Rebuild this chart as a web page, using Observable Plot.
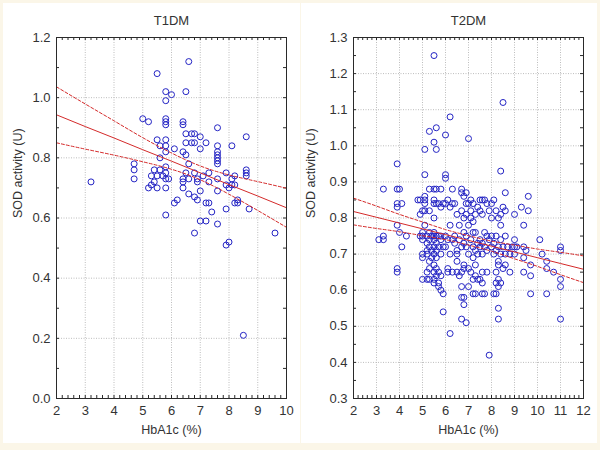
<!DOCTYPE html>
<html><head><meta charset="utf-8">
<script src="https://cdn.jsdelivr.net/npm/d3@7"></script>
<script src="https://cdn.jsdelivr.net/npm/@observablehq/plot@0.6"></script>
<style>
html,body{margin:0;padding:0;background:#fbf6e8;}
body{width:600px;height:450px;position:relative;overflow:hidden;font-family:"Liberation Sans",Arial,sans-serif;}
.panel{position:absolute;top:3px;height:440px;background:#fff;}
#left{left:3px;width:297px;}
#right{left:301px;width:296px;}
</style></head><body>
<div id="left" class="panel"></div><div id="right" class="panel"></div>
<script>
// ---------- data ----------
const titles = ["T1DM", "T2DM"];
const xLabel = "HbA1c (%)";
const yLabel = "SOD activity (U)";

const t1dmPoints = [
[3.2,0.72],
[4.7,0.78],[4.7,0.76],[4.7,0.73],
[5.0,0.93],[5.2,0.92],[5.5,1.08],[5.8,1.02],[5.8,0.99],[6.0,1.01],[6.5,1.02],[6.6,1.12],
[5.8,0.93],[5.8,0.92],[5.8,0.91],[6.4,0.92],[6.4,0.91],[7.6,0.90],
[5.5,0.86],[5.8,0.86],[5.6,0.84],[5.8,0.84],[5.8,0.82],[5.6,0.80],[6.1,0.83],
[6.5,0.88],[6.7,0.88],[6.8,0.88],[7.0,0.87],[6.5,0.85],[6.7,0.85],[6.8,0.85],[7.2,0.85],[7.0,0.83],[6.4,0.82],[6.5,0.81],[6.6,0.78],
[7.6,0.84],[7.6,0.82],[7.6,0.81],[7.6,0.80],[7.6,0.79],[7.6,0.78],[8.1,0.84],[8.6,0.87],
[5.4,0.76],[5.6,0.76],[5.8,0.77],[5.8,0.75],[5.3,0.74],[5.5,0.74],[5.7,0.74],[5.9,0.73],[5.8,0.73],[5.4,0.72],[5.3,0.71],[5.2,0.70],[5.5,0.70],[5.8,0.70],
[6.5,0.75],[6.4,0.73],[6.6,0.73],[6.4,0.72],[6.4,0.70],[6.8,0.75],[6.9,0.73],[7.1,0.74],[7.3,0.75],[6.9,0.72],[7.3,0.72],[7.6,0.73],
[6.6,0.68],[6.8,0.67],[6.9,0.66],[7.0,0.69],[6.2,0.66],[6.1,0.65],[5.8,0.61],[7.2,0.65],[7.3,0.65],[7.6,0.69],
[7.9,0.75],[8.2,0.74],[8.1,0.73],[7.9,0.71],[8.1,0.71],[8.2,0.71],[8.0,0.70],
[8.6,0.76],[8.6,0.75],[8.6,0.74],
[8.3,0.66],[8.2,0.65],[8.3,0.65],[8.7,0.63],[7.9,0.63],[7.4,0.62],[7.0,0.59],[7.2,0.59],[7.6,0.58],[6.8,0.55],[7.9,0.51],[8.0,0.52],[9.6,0.55],[8.5,0.21]
];

const t2dmPoints = [
[3.1,0.74],[3.3,0.75],[3.3,0.74],[3.3,0.88],
[3.9,0.95],[3.9,0.88],[4.0,0.88],[3.9,0.84],[4.1,0.84],[3.9,0.83],[3.9,0.78],[4.0,0.76],[4.1,0.72],[3.9,0.66],[3.9,0.65],[4.3,0.75],
[4.8,0.85],[4.9,0.85],[4.9,0.81],[4.9,0.75],
[5.0,0.76],[5.0,0.75],[5.0,0.74],[5.0,0.70],[5.0,0.69],[5.0,0.63],[5.1,0.86],[5.1,0.85],[5.1,0.84],[5.1,0.82],[5.0,0.82],[5.1,0.78],[5.2,0.75],[5.2,0.73],[5.2,0.71],[5.2,0.70],[5.2,0.65],[5.2,0.63],[5.1,0.99],[5.1,0.92],
[5.3,0.88],[5.3,1.04],[5.3,0.82],[5.3,0.76],[5.3,0.74],[5.3,0.72],[5.3,0.68],[5.3,0.66],[5.3,0.63],[5.4,0.75],[5.4,0.71],[5.4,0.69],
[5.5,1.25],[5.5,1.01],[5.5,0.88],[5.5,0.85],[5.5,0.84],[5.5,0.80],[5.5,0.76],[5.5,0.75],[5.5,0.74],[5.5,0.72],[5.5,0.70],[5.5,0.67],[5.5,0.65],[5.5,0.63],[5.5,0.62],
[5.6,1.05],[5.6,0.99],[5.6,0.88],[5.6,0.84],[5.6,0.75],[5.6,0.73],[5.6,0.71],[5.6,0.69],[5.6,0.66],[5.6,0.64],
[5.7,0.84],[5.7,0.75],[5.7,0.72],[5.7,0.65],[5.7,0.62],[5.7,0.61],[5.8,0.88],[5.8,0.83],[5.8,0.75],[5.8,0.74],[5.8,0.70],[5.8,0.64],[5.8,0.60],[5.9,0.59],[5.9,0.54],[5.9,0.72],[5.9,0.84],
[6.0,1.03],[6.0,0.92],[6.0,0.91],[6.0,0.84],[6.0,0.75],[6.0,0.72],[6.1,0.85],[6.1,0.74],[6.1,0.66],[6.1,0.65],[6.2,1.08],[6.2,0.48],[6.2,0.83],[6.2,0.70],[6.2,0.78],
[6.3,0.88],[6.3,0.84],[6.3,0.74],[6.3,0.65],[6.4,0.84],[6.4,0.75],[6.4,0.73],[6.5,0.81],[6.5,0.71],[6.5,0.70],[6.5,0.68],[6.5,0.65],[6.6,0.64],[6.6,0.78],[6.6,0.74],
[6.7,0.88],[6.7,0.87],[6.7,0.82],[6.7,0.72],[6.7,0.65],[6.7,0.61],[6.7,0.58],[6.7,0.52],[6.8,0.86],[6.8,0.80],[6.8,0.76],[6.8,0.73],[6.8,0.67],[6.8,0.66],[6.8,0.58],[6.8,0.56],
[6.9,0.87],[6.9,0.84],[6.9,0.81],[6.9,0.75],[6.9,0.72],[6.9,0.51],[7.0,1.02],[7.0,0.84],[7.0,0.78],[7.0,0.70],[7.0,0.66],[7.0,0.61],
[7.1,0.85],[7.1,0.82],[7.1,0.80],[7.1,0.74],[7.1,0.65],[7.2,0.84],[7.2,0.79],[7.2,0.76],[7.2,0.72],[7.2,0.69],[7.2,0.63],[7.2,0.59],[7.3,0.81],[7.3,0.76],[7.3,0.71],[7.3,0.67],[7.3,0.64],[7.3,0.59],
[7.4,0.83],[7.4,0.73],[7.4,0.70],[7.4,0.63],[7.5,0.85],[7.5,0.82],[7.5,0.74],[7.5,0.72],[7.5,0.63],[7.6,0.85],[7.6,0.81],[7.6,0.73],[7.6,0.70],[7.6,0.65],[7.6,0.62],[7.6,0.59],
[7.7,0.85],[7.7,0.76],[7.7,0.72],[7.7,0.59],[7.8,0.84],[7.8,0.75],[7.8,0.71],[7.8,0.65],[7.9,0.82],[7.9,0.74],[7.9,0.42],
[8.0,0.84],[8.0,0.80],[8.0,0.75],[8.0,0.72],[8.1,0.85],[8.1,0.73],[8.1,0.70],[8.1,0.59],[8.2,0.82],[8.2,0.75],[8.2,0.71],[8.2,0.65],[8.2,0.62],[8.2,0.59],
[8.3,0.80],[8.3,0.72],[8.3,0.68],[8.3,0.63],[8.3,0.61],[8.3,0.55],[8.3,0.52],[8.3,0.67],
[8.4,0.93],[8.4,0.81],[8.4,0.78],[8.4,0.74],[8.4,0.70],[8.4,0.62],[8.5,1.12],[8.5,0.83],[8.5,0.72],[8.5,0.66],[8.6,0.82],[8.6,0.87],[8.6,0.75],[8.6,0.70],[8.6,0.67],
[8.7,0.72],[8.8,0.70],[8.8,0.65],[8.9,0.72],[9.0,0.81],[9.0,0.74],[9.0,0.72],[9.0,0.70],[9.1,0.72],
[9.3,0.83],[9.4,0.72],[9.4,0.69],[9.4,0.65],[9.4,0.78],[9.5,0.71],[9.6,0.86],[9.6,0.82],[9.7,0.67],[9.7,0.64],[9.7,0.59],
[10.1,0.74],[10.2,0.70],[10.4,0.68],[10.4,0.66],[10.4,0.59],[10.7,0.65],[11.0,0.72],[11.0,0.71],[11.0,0.63],[11.0,0.61],[11.0,0.52]
];

// regression line and 95% confidence band
const t1dmFitX   = [2, 3, 4, 5, 6, 7, 8, 9, 10];
const t1dmFit    = [0.943, 0.904, 0.866, 0.827, 0.789, 0.750, 0.711, 0.673, 0.634];
const t1dmUpper  = [1.036, 0.979, 0.923, 0.867, 0.816, 0.773, 0.743, 0.721, 0.699];
const t1dmLower  = [0.850, 0.829, 0.809, 0.787, 0.762, 0.727, 0.679, 0.625, 0.569];

const t2dmFitX   = [2, 3, 4, 5, 6, 7, 8, 9, 10, 11, 12];
const t2dmFit    = [0.818, 0.802, 0.786, 0.770, 0.754, 0.738, 0.722, 0.706, 0.690, 0.674, 0.658];
const t2dmUpper  = [0.855, 0.833, 0.810, 0.789, 0.768, 0.751, 0.736, 0.725, 0.714, 0.705, 0.695];
const t2dmLower  = [0.781, 0.771, 0.762, 0.751, 0.740, 0.725, 0.708, 0.687, 0.666, 0.643, 0.621];

const t1dmXTicks = [2, 3, 4, 5, 6, 7, 8, 9, 10];
const t1dmYTicks = [0.0, 0.2, 0.4, 0.6, 0.8, 1.0, 1.2];
const t2dmXTicks = [2, 3, 4, 5, 6, 7, 8, 9, 10, 11, 12];
const t2dmYTicks = [0.3, 0.4, 0.5, 0.6, 0.7, 0.8, 0.9, 1.0, 1.1, 1.2, 1.3];

// ---------- drawing ----------
function panel({title, points, fitX, fit, upper, lower, xDomain, yDomain, xTicks, yTicks, xMinor, yMinor, marginLeft, width, yLabelDx}) {
  const H = 440, mt = 34, mb = 45, mr = 14;
  const ph = H - mt - mb, pw = width - marginLeft - mr;
  const tk = 3;
  const fitRows = fitX.map((x, i) => ({x, fit: fit[i], upper: upper[i], lower: lower[i]}));
  const red = "#d42a2a";
  const ink = "#2a2a2a";
  return Plot.plot({
    width, height: H, marginLeft, marginRight: mr, marginTop: mt, marginBottom: mb,
    style: {fontFamily: "'Liberation Sans', Arial, sans-serif", fontSize: "13px", color: ink, background: "white", overflow: "visible"},
    x: {domain: xDomain},
    y: {domain: yDomain},
    marks: [
      Plot.gridX(xTicks, {stroke: "#bdbdbd", strokeOpacity: 1, strokeDasharray: "1,1.5"}),
      Plot.gridY(yTicks, {stroke: "#bdbdbd", strokeOpacity: 1, strokeDasharray: "1,1.5"}),
      Plot.ruleY(yMinor, {insetRight: pw - tk, stroke: ink}),
      Plot.ruleY(yMinor, {insetLeft: pw - tk, stroke: ink}),
      Plot.ruleX(xMinor, {insetTop: ph - tk, stroke: ink}),
      Plot.ruleX(xMinor, {insetBottom: ph - tk, stroke: ink}),
      Plot.axisX(xTicks, {tickSize: 0, tickPadding: 7, label: null, fill: "#333"}),
      Plot.axisY(yTicks, {tickSize: 0, tickPadding: 6, label: null, tickFormat: d3.format(".1f"), fill: "#333"}),
      Plot.dot(points, {x: d => d[0], y: d => d[1], r: 3, stroke: "#2424c4", strokeWidth: 1, fill: "none"}),
      Plot.line(fitRows, {x: "x", y: "fit", stroke: red, strokeWidth: 1}),
      Plot.line(fitRows, {x: "x", y: "upper", stroke: red, strokeWidth: 1, strokeDasharray: "3,2", curve: "natural"}),
      Plot.line(fitRows, {x: "x", y: "lower", stroke: red, strokeWidth: 1, strokeDasharray: "3,2", curve: "natural"}),
      Plot.frame({stroke: ink}),
      Plot.text([title], {text: d => d, frameAnchor: "top", dy: -22, fontSize: 13, fill: "#333"}),
      Plot.text([xLabel], {text: d => d, frameAnchor: "bottom", dy: 35, fontSize: 12.5, fill: "#333"}),
      Plot.text([yLabel], {text: d => d, frameAnchor: "left", dx: yLabelDx, rotate: -90, fontSize: 12.5, fill: "#333"})
    ]
  });
}

document.getElementById("left").append(panel({
  title: titles[0], points: t1dmPoints,
  fitX: t1dmFitX, fit: t1dmFit, upper: t1dmUpper, lower: t1dmLower,
  xDomain: [2, 10], yDomain: [0, 1.2], xTicks: t1dmXTicks, yTicks: t1dmYTicks,
  xMinor: d3.range(2, 10.001, 0.2), yMinor: d3.range(0, 1.2001, 0.1),
  marginLeft: 53, width: 297, yLabelDx: -39
}));
document.getElementById("right").append(panel({
  title: titles[1], points: t2dmPoints,
  fitX: t2dmFitX, fit: t2dmFit, upper: t2dmUpper, lower: t2dmLower,
  xDomain: [2, 12], yDomain: [0.3, 1.3], xTicks: t2dmXTicks, yTicks: t2dmYTicks,
  xMinor: d3.range(2, 12.001, 0.2), yMinor: d3.range(0.3, 1.3001, 0.05),
  marginLeft: 52, width: 296, yLabelDx: -43
}));
</script>
</body></html>
